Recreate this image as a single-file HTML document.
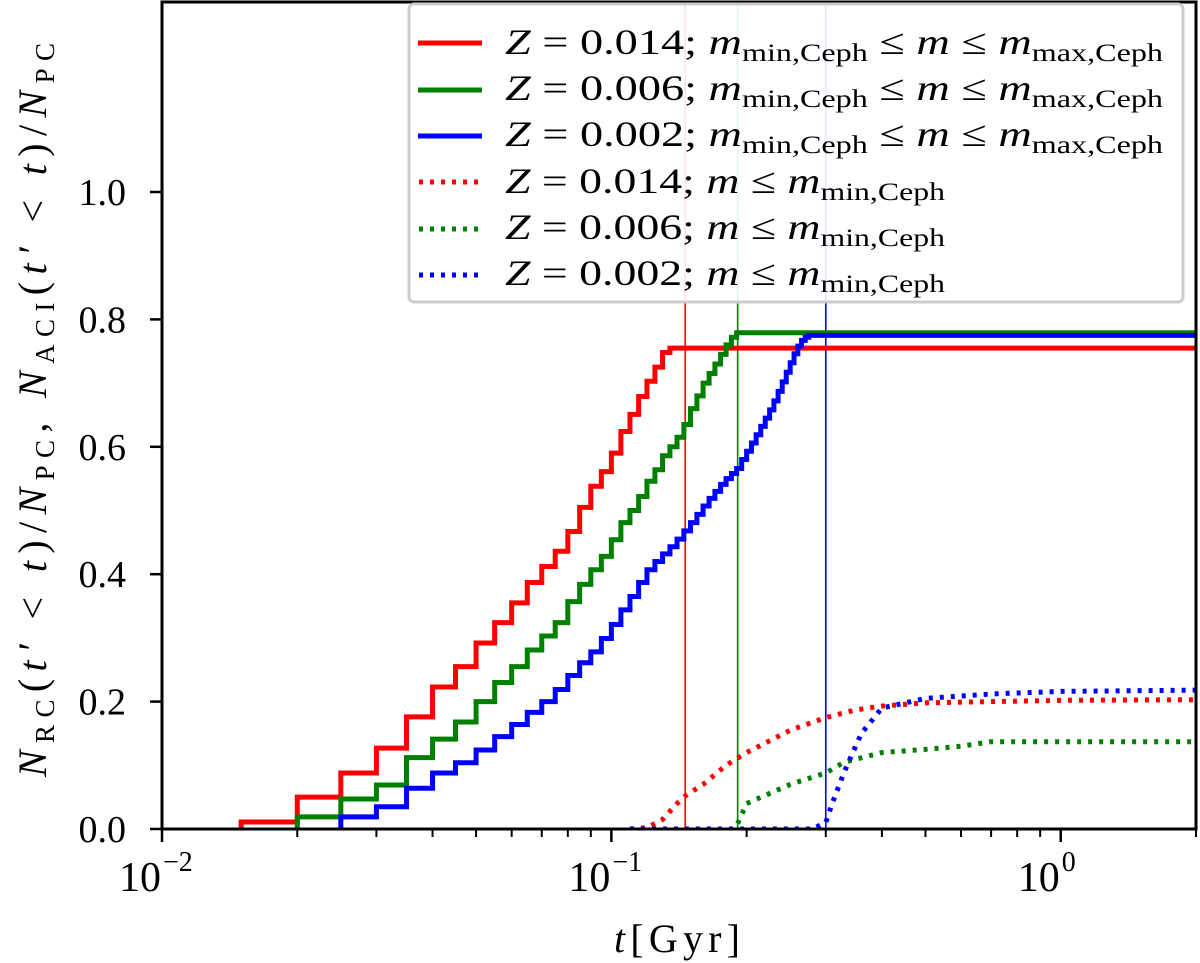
<!DOCTYPE html>
<html><head><meta charset="utf-8"><style>
body{margin:0;background:#fff}
svg{display:block}
text{font-family:"Liberation Serif","DejaVu Serif",serif;fill:#000}
</style></head><body>
<svg id="chart" width="1200" height="963" viewBox="0 0 1200 963" xmlns="http://www.w3.org/2000/svg">
<g id="marks"></g>
<g id="axes"></g>
</svg>
<script>
// ---- data ----
const redT = [0.015,0.02,0.025,0.03,0.035,0.04,0.045,0.05,0.055,0.06,0.065,0.07,0.075,0.08,0.085,0.09,0.095,0.1,0.105,0.11,0.115,0.12,0.125,0.13,0.135];
const redV = [0.011,0.050,0.088,0.127,0.176,0.223,0.255,0.292,0.324,0.355,0.387,0.412,0.436,0.467,0.505,0.538,0.561,0.590,0.624,0.651,0.679,0.703,0.725,0.748,0.755];
const greenT = [0.02,0.025,0.03,0.035,0.04,0.045,0.05,0.055,0.06,0.065,0.07,0.075,0.08,0.085,0.09,0.095,0.1,0.105,0.11,0.115,0.12,0.125,0.13,0.135,0.14,0.145,0.15,0.155,0.16,0.165,0.17,0.175,0.18,0.185,0.19];
const greenV = [0.019,0.047,0.069,0.112,0.141,0.168,0.200,0.230,0.255,0.281,0.303,0.324,0.357,0.384,0.407,0.428,0.454,0.481,0.500,0.522,0.546,0.564,0.586,0.600,0.615,0.635,0.660,0.680,0.700,0.715,0.730,0.745,0.760,0.772,0.779];
const blueT = [0.025,0.03,0.035,0.04,0.045,0.05,0.055,0.06,0.065,0.07,0.075,0.08,0.085,0.09,0.095,0.1,0.105,0.11,0.115,0.12,0.125,0.13,0.135,0.14,0.145,0.15,0.155,0.16,0.165,0.17,0.175,0.18,0.185,0.19,0.195,0.2,0.205,0.21,0.215,0.22,0.225,0.23,0.235,0.24,0.245,0.25,0.255,0.26,0.265,0.27,0.275,0.28];
const blueV = [0.019,0.035,0.064,0.088,0.104,0.124,0.145,0.164,0.183,0.200,0.219,0.241,0.261,0.278,0.299,0.321,0.344,0.365,0.387,0.407,0.420,0.432,0.443,0.455,0.468,0.481,0.494,0.507,0.519,0.530,0.541,0.550,0.558,0.566,0.580,0.593,0.606,0.619,0.632,0.645,0.658,0.672,0.687,0.702,0.717,0.732,0.746,0.758,0.767,0.772,0.775,0.775];
const redDotT = [0.11,0.12,0.13,0.14,0.146,0.16,0.18,0.2,0.25,0.3,0.35,0.4,0.5,0.7,1.0,2.0];
const redDotV = [0,0.002,0.015,0.04,0.052,0.07,0.1,0.12,0.155,0.175,0.187,0.193,0.198,0.2,0.202,0.203];
const greenDotT = [0.11,0.185,0.19,0.2,0.25,0.3,0.33,0.4,0.5,0.6,0.7,1.0,2.0];
const greenDotV = [0,0,0.005,0.04,0.07,0.088,0.105,0.12,0.125,0.13,0.137,0.137,0.137];
const blueDotT = [0.11,0.28,0.3,0.31,0.33,0.36,0.4,0.5,0.7,1.0,2.0];
const blueDotV = [0,0,0.01,0.04,0.09,0.15,0.19,0.205,0.212,0.216,0.218];
const vlineT = [0.146,0.191,0.30];
const yTicks = [0,0.2,0.4,0.6,0.8,1.0];
const yTickLabels = ["0.0","0.2","0.4","0.6","0.8","1.0"];
const xDecades = [-2,-1,0];

const L=162,R=1196,T=2,B=829;
const xmin=Math.log10(0.01), xmax=Math.log10(2.0);
const ymin=0, ymax=(B-T)/637;
function X(t){return L+(Math.log10(t)-xmin)/(xmax-xmin)*(R-L);}
function Y(v){return B-(v-ymin)/(ymax-ymin)*(B-T);}
const NS="http://www.w3.org/2000/svg";
function mk(tag,attrs,parent){const e=document.createElementNS(NS,tag);for(const k in attrs)e.setAttribute(k,attrs[k]);parent.appendChild(e);return e;}
const marks=document.getElementById('marks'), axes=document.getElementById('axes');

const defs=mk('defs',{},marks);
const cp=mk('clipPath',{id:'clip'},defs);
mk('rect',{x:L,y:T,width:R-L,height:B-T},cp);
const plot=mk('g',{'clip-path':'url(#clip)'},marks);

const vcol=['#ff0000','#008000','#0000ff'];
vlineT.forEach((t,i)=>{
  const l=mk('line',{x1:X(t),x2:X(t),y1:T,y2:B,stroke:vcol[i],'stroke-width':1.6},plot);
  
  
});

function stepPath(ts,vs){
  let d='M'+X(ts[0])+','+Y(0)+' L'+X(ts[0])+','+Y(vs[0]);
  for(let i=1;i<ts.length;i++){d+=' L'+X(ts[i])+','+Y(vs[i-1])+' L'+X(ts[i])+','+Y(vs[i]);}
  d+=' L'+X(2.0)+','+Y(vs[vs.length-1]);
  return d;
}
function linePath(ts,vs){return ts.map((t,i)=>(i?'L':'M')+X(t)+','+Y(vs[i])).join(' ');}

const dots=[[redDotT,redDotV,'#ff0000','red'],[greenDotT,greenDotV,'#008000','green'],[blueDotT,blueDotV,'#0000ff','blue']];
dots.forEach(s=>{
  const p=mk('path',{d:linePath(s[0],s[1]),fill:'none',stroke:s[2],'stroke-width':5,'stroke-dasharray':'4,7'},plot);
  
  
});
const steps=[[redT,redV,'#ff0000','red'],[greenT,greenV,'#008000','green'],[blueT,blueV,'#0000ff','blue']];
steps.forEach(s=>{
  const p=mk('path',{d:stepPath(s[0],s[1]),fill:'none',stroke:s[2],'stroke-width':5,'stroke-linejoin':'miter'},plot);
  
  
});

const fr=mk('rect',{x:L,y:T,width:R-L,height:B-T,fill:'none',stroke:'#000','stroke-width':3},axes);



yTicks.forEach((v,i)=>{
  mk('line',{x1:L-12,x2:L,y1:Y(v),y2:Y(v),stroke:'#000','stroke-width':2.5},axes);
  const t=mk('text',{x:126,y:Y(v)+13,'text-anchor':'end',style:'font-size:38px'},axes);
  t.textContent=yTickLabels[i];
  
  
});
xDecades.forEach(d=>{
  const x=X(Math.pow(10,d));
  mk('line',{x1:x,x2:x,y1:B,y2:B+13,stroke:'#000','stroke-width':2.5},axes);
  const t=mk('text',{x:x-22,y:B+62,'text-anchor':'middle',style:'font-size:42px'},axes);
  t.textContent='10';
  
  
  const s=mk('text',{x:x+1,y:B+42,'text-anchor':'start',style:'font-size:28px'},axes);
  s.textContent=(d<0?'\u2212':'')+Math.abs(d);
  for(let m=2;m<=9;m++){
    const tv=m*Math.pow(10,d); if(tv>2.0)break;
    mk('line',{x1:X(tv),x2:X(tv),y1:B,y2:B+8,stroke:'#000','stroke-width':2},axes);
  }
});
</script>
<svg style="position:absolute;left:0;top:0" width="1200" height="963" xmlns="http://www.w3.org/2000/svg">
<text x="677" y="952" text-anchor="middle" style="font-size:40px" textLength="126" lengthAdjust="spacing"><tspan font-style="italic">t</tspan>[Gyr]</text>
<text transform="translate(46,410) rotate(-90)" text-anchor="middle" style="font-size:40px" textLength="734" lengthAdjust="spacing"><tspan font-style="italic">N</tspan><tspan style="font-size:27px" dy="8">RC</tspan><tspan dy="-8">(</tspan><tspan font-style="italic">t′</tspan> &lt; <tspan font-style="italic">t</tspan>)/<tspan font-style="italic">N</tspan><tspan style="font-size:27px" dy="8">PC</tspan><tspan dy="-8">, </tspan><tspan font-style="italic">N</tspan><tspan style="font-size:27px" dy="8">ACI</tspan><tspan dy="-8">(</tspan><tspan font-style="italic">t′</tspan> &lt; <tspan font-style="italic">t</tspan>)/<tspan font-style="italic">N</tspan><tspan style="font-size:27px" dy="8">PC</tspan></text>
<g>
<rect x="409" y="4" width="774" height="298" rx="5" fill="#fff" fill-opacity="0.9" stroke="#ccc" stroke-width="3"/>
<g><line x1="418" x2="482" y1="43" y2="43" stroke="#ff0000" stroke-width="5"/>
<text x="505" y="54" style="font-size:36px" textLength="658" lengthAdjust="spacingAndGlyphs"><tspan font-style="italic">Z</tspan> = 0.014; <tspan font-style="italic">m</tspan><tspan style="font-size:25px" dy="7">min,Ceph</tspan><tspan dy="-7"> ≤ </tspan><tspan font-style="italic">m</tspan> ≤ <tspan font-style="italic">m</tspan><tspan style="font-size:25px" dy="7">max,Ceph</tspan></text></g>
<g><line x1="418" x2="482" y1="90" y2="90" stroke="#008000" stroke-width="5"/>
<text x="505" y="100" style="font-size:36px" textLength="658" lengthAdjust="spacingAndGlyphs"><tspan font-style="italic">Z</tspan> = 0.006; <tspan font-style="italic">m</tspan><tspan style="font-size:25px" dy="7">min,Ceph</tspan><tspan dy="-7"> ≤ </tspan><tspan font-style="italic">m</tspan> ≤ <tspan font-style="italic">m</tspan><tspan style="font-size:25px" dy="7">max,Ceph</tspan></text></g>
<g><line x1="418" x2="482" y1="136" y2="136" stroke="#0000ff" stroke-width="5"/>
<text x="505" y="146" style="font-size:36px" textLength="658" lengthAdjust="spacingAndGlyphs"><tspan font-style="italic">Z</tspan> = 0.002; <tspan font-style="italic">m</tspan><tspan style="font-size:25px" dy="7">min,Ceph</tspan><tspan dy="-7"> ≤ </tspan><tspan font-style="italic">m</tspan> ≤ <tspan font-style="italic">m</tspan><tspan style="font-size:25px" dy="7">max,Ceph</tspan></text></g>
<g><line x1="419" x2="482" y1="182" y2="182" stroke="#ff0000" stroke-width="5" stroke-dasharray="4,7"/>
<text x="505" y="193" style="font-size:36px" textLength="440" lengthAdjust="spacingAndGlyphs"><tspan font-style="italic">Z</tspan> = 0.014; <tspan font-style="italic">m</tspan> ≤ <tspan font-style="italic">m</tspan><tspan style="font-size:25px" dy="7">min,Ceph</tspan></text></g>
<g><line x1="419" x2="482" y1="229" y2="229" stroke="#008000" stroke-width="5" stroke-dasharray="4,7"/>
<text x="505" y="239" style="font-size:36px" textLength="440" lengthAdjust="spacingAndGlyphs"><tspan font-style="italic">Z</tspan> = 0.006; <tspan font-style="italic">m</tspan> ≤ <tspan font-style="italic">m</tspan><tspan style="font-size:25px" dy="7">min,Ceph</tspan></text></g>
<g><line x1="419" x2="482" y1="275" y2="275" stroke="#0000ff" stroke-width="5" stroke-dasharray="4,7"/>
<text x="505" y="285" style="font-size:36px" textLength="440" lengthAdjust="spacingAndGlyphs"><tspan font-style="italic">Z</tspan> = 0.002; <tspan font-style="italic">m</tspan> ≤ <tspan font-style="italic">m</tspan><tspan style="font-size:25px" dy="7">min,Ceph</tspan></text></g>
</g>
</svg>
</body></html>
